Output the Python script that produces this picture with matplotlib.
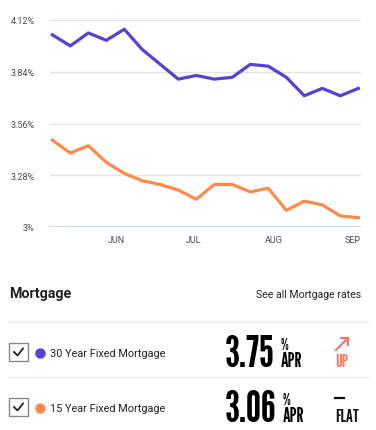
import pandas as pd
import matplotlib.pyplot as plt
import matplotlib.dates as mdates
from matplotlib.lines import Line2D
from matplotlib.patches import Rectangle, FancyArrowPatch

# weekly rates
dates = pd.date_range('2019-05-07', periods=18, freq='7D')
rate_30 = [4.04, 3.98, 4.05, 4.01, 4.07, 3.96, 3.88, 3.80, 3.82, 3.80, 3.81,
           3.88, 3.87, 3.81, 3.71, 3.75, 3.71, 3.75]
rate_15 = [3.47, 3.40, 3.44, 3.35, 3.29, 3.25, 3.23, 3.20, 3.15, 3.23, 3.23,
           3.19, 3.21, 3.09, 3.14, 3.12, 3.06, 3.05]
yticks = [3.0, 3.28, 3.56, 3.84, 4.12]
ytick_labels = ['3%', '3.28%', '3.56%', '3.84%', '4.12%']

products = ['30 Year Fixed Mortgage', '15 Year Fixed Mortgage']
current = ['3.75', '3.06']
trend = ['UP', 'FLAT']

purple = '#5a3fd4'
orange = '#ff8a4c'
W, H = 376, 431
body = 'Roboto'
cond = 'League Gothic'

fig = plt.figure(figsize=(W / 100, H / 100), dpi=100)
ax = fig.add_axes([50 / W, 1 - 228 / H, 311 / W, 207 / H])

ax.plot(dates, rate_30, color=purple, lw=2.3, solid_joinstyle='round')
ax.plot(dates, rate_15, color=orange, lw=2.3, solid_joinstyle='round')

ax.set_ylim(3.0, 4.12)
ax.set_xlim(dates[0] - pd.Timedelta(days=0.9), dates[-1] + pd.Timedelta(days=1.05))
ax.set_yticks(yticks)
ax.set_yticklabels(ytick_labels)
ax.xaxis.set_major_locator(mdates.MonthLocator())
ax.set_xticks(ax.get_xticks())
ax.set_xticklabels([mdates.num2date(t).strftime('%b').upper() for t in ax.get_xticks()])
for lab in ax.get_xticklabels() + ax.get_yticklabels():
    lab.set_family(body)

for s in ax.spines.values():
    s.set_visible(False)
ax.grid(axis='y', color='#e4e4e4', lw=1)
ax.axhline(3.0, color='#c5d2e8', lw=1.2)
ax.tick_params(axis='both', length=0, labelsize=6.5, labelcolor='#4a4a4a')
ax.tick_params(axis='y', pad=11)
ax.tick_params(axis='x', pad=6)


def px(x, y):
    return x / W, 1 - y / H


# bottom panel
fig.text(*px(9, 294), 'Mortgage', fontsize=10.3, fontweight='bold', family=body,
         va='center', color='#222222')
fig.text(*px(361, 295), 'See all Mortgage rates', fontsize=7.6, family=body,
         va='center', ha='right', color='#222222')

for y in [323, 378]:
    fig.add_artist(Line2D([9 / W, 369 / W], [1 - y / H, 1 - y / H], color='#ececec', lw=1))

row_y = [353, 408]
colors = [purple, orange]
trend_colors = ['#f47c66', '#111111']
renderer = fig.canvas.get_renderer()
for i in range(2):
    y = row_y[i]
    # checkbox
    fig.add_artist(Rectangle(px(9, y + 9), 19 / W, 18 / H, fill=False, ec='#888888', lw=1))
    fig.add_artist(Line2D([14 / W, 17.5 / W, 23 / W], [1 - (y + 0) / H, 1 - (y + 3.5) / H, 1 - (y - 3.5) / H],
                          color='#222222', lw=1.3))
    fig.add_artist(Line2D([40 / W], [1 - (y + 1) / H], marker='o', ms=6.5, color=colors[i], lw=0))
    fig.text(*px(50, y + 1), products[i], fontsize=7.8, family=body, va='center', color='#222222')
    num = fig.text(*px(225, y + 14), current[i], fontsize=31, family=cond,
                   va='baseline', color='#000000')
    x_end = num.get_window_extent(renderer).x1
    fig.text(x_end / W + 6 / W, 1 - (y - 3) / H, '%', fontsize=11, family=cond,
             va='baseline', color='#000000')
    fig.text(x_end / W + 6 / W, 1 - (y + 14) / H, 'APR', fontsize=14, family=cond,
             va='baseline', color='#000000')
    fig.text(*px(335, y + 14), trend[i], fontsize=13, family=cond,
             va='baseline', color=trend_colors[i])

# up arrow and flat dash
fig.add_artist(FancyArrowPatch(px(336, 351), px(348, 339), transform=fig.transFigure,
                               arrowstyle='-|>,head_length=0.0,head_width=0.0', lw=0))
fig.add_artist(Line2D([336 / W, 348 / W], [1 - 351 / H, 1 - 339 / H], color='#f47c66', lw=1.6))
fig.add_artist(Line2D([341 / W, 348 / W, 348 / W], [1 - 339 / H, 1 - 339 / H, 1 - 346 / H],
                      color='#f47c66', lw=1.6))
fig.add_artist(Line2D([335 / W, 344 / W], [1 - 399 / H, 1 - 399 / H], color='#111111', lw=1.6))

fig.savefig('out.png', dpi=100)
